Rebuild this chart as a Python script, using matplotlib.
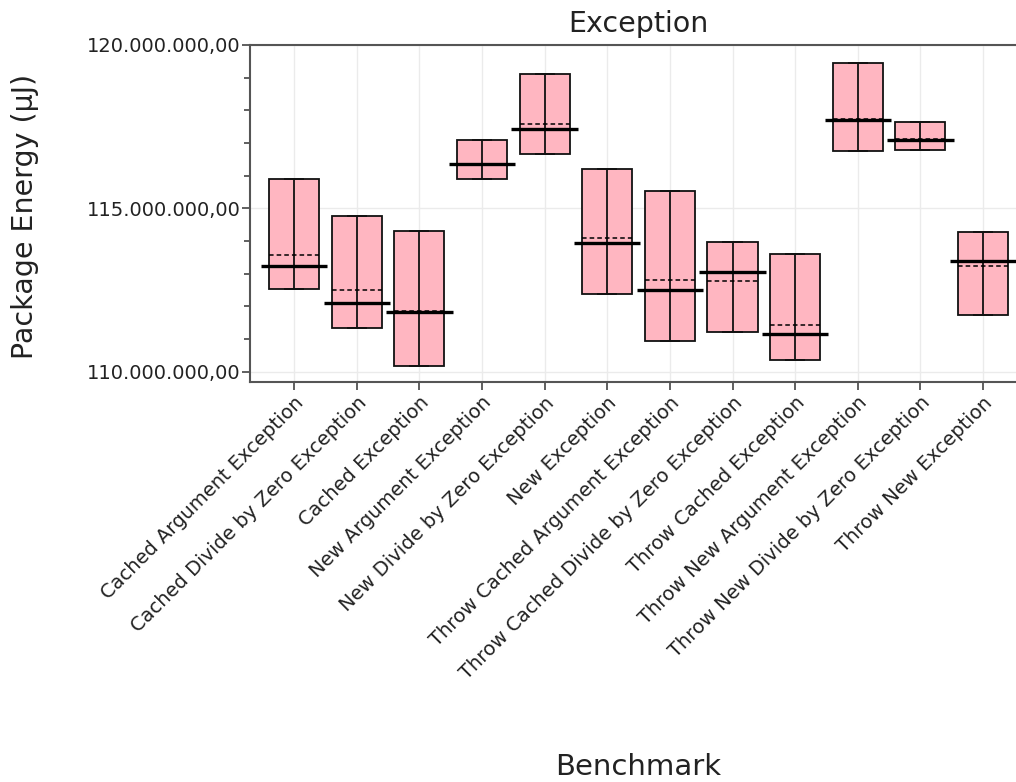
import matplotlib
matplotlib.use("Agg")
import matplotlib.pyplot as plt
from matplotlib.ticker import FuncFormatter, MultipleLocator

benchmarks = [
    "Cached Argument Exception",
    "Cached Divide by Zero Exception",
    "Cached Exception",
    "New Argument Exception",
    "New Divide by Zero Exception",
    "New Exception",
    "Throw Cached Argument Exception",
    "Throw Cached Divide by Zero Exception",
    "Throw Cached Exception",
    "Throw New Argument Exception",
    "Throw New Divide by Zero Exception",
    "Throw New Exception",
]
# values in microjoules
upper = [115.90e6, 114.78e6, 114.31e6, 117.10e6, 119.12e6, 116.20e6,
         115.54e6, 113.98e6, 113.61e6, 119.45e6, 117.65e6, 114.28e6]
lower = [112.54e6, 111.34e6, 110.18e6, 115.90e6, 116.67e6, 112.38e6,
         110.93e6, 111.21e6, 110.37e6, 116.77e6, 116.78e6, 111.74e6]
median = [113.25e6, 112.12e6, 111.83e6, 116.35e6, 117.43e6, 113.94e6,
          112.51e6, 113.04e6, 111.15e6, 117.70e6, 117.10e6, 113.39e6]
mean = [113.56e6, 112.49e6, 111.85e6, 116.37e6, 117.58e6, 114.11e6,
        112.81e6, 112.79e6, 111.43e6, 117.75e6, 117.12e6, 113.25e6]

fig = plt.figure(figsize=(10.16, 7.82), dpi=100)
ax = fig.add_axes([0.2463, 0.5115, 0.7644, 0.431])

x = list(range(len(benchmarks)))
heights = [u - l for u, l in zip(upper, lower)]

ax.bar(x, heights, bottom=lower, width=0.8, color="#ffb6c1",
       edgecolor="#111111", linewidth=1.3, zorder=3)
ax.vlines(x, lower, upper, color="#111111", linewidth=1.3, zorder=4)
ax.hlines(upper, [i - 0.16 for i in x], [i + 0.16 for i in x],
          color="#111111", linewidth=1.3, zorder=4)
ax.hlines(lower, [i - 0.16 for i in x], [i + 0.16 for i in x],
          color="#111111", linewidth=1.3, zorder=4)
ax.hlines(mean, [i - 0.4 for i in x], [i + 0.4 for i in x],
          color="black", linewidth=1.1, linestyles=(0, (3, 2)), zorder=5)
ax.hlines(median, [i - 0.53 for i in x], [i + 0.53 for i in x],
          color="black", linewidth=2.4, zorder=6)

ax.set_xlim(-0.7, len(benchmarks) - 0.3)
ax.set_ylim(109.69e6, 120e6)
ax.set_xticks(x)
ax.set_xticklabels(benchmarks, rotation=45, ha="right",
                   rotation_mode="anchor", fontsize=14, color="#222222")
ax.yaxis.set_major_locator(MultipleLocator(5e6))
ax.yaxis.set_minor_locator(MultipleLocator(1e6))
ax.yaxis.set_major_formatter(FuncFormatter(
    lambda v, p: "{:,.2f}".format(v).replace(",", "X").replace(".", ",").replace("X", ".")))
ax.tick_params(axis="y", labelsize=14, labelcolor="#222222", length=6,
               width=1.2, pad=1, color="#444444")
ax.tick_params(axis="y", which="minor", length=4, width=1.2, color="#444444")
ax.tick_params(axis="x", length=6, width=1.2, pad=2, color="#444444")

ax.grid(True, color="#ebebeb", linewidth=1, zorder=0)
ax.set_axisbelow(True)
for side in ["left", "bottom", "top"]:
    ax.spines[side].set_color("#555555")
    ax.spines[side].set_linewidth(1.5)
ax.spines["right"].set_visible(False)

ax.set_title("Exception", fontsize=20.5, pad=9, color="#222222")
ax.set_ylabel("Package Energy (µJ)", fontsize=20.5, color="#222222")
ax.set_xlabel("Benchmark", fontsize=21, color="#222222")
ax.yaxis.set_label_coords(-0.272, 0.49)
ax.xaxis.set_label_coords(0.5, -1.10)

fig.savefig("out.png", dpi=100)
